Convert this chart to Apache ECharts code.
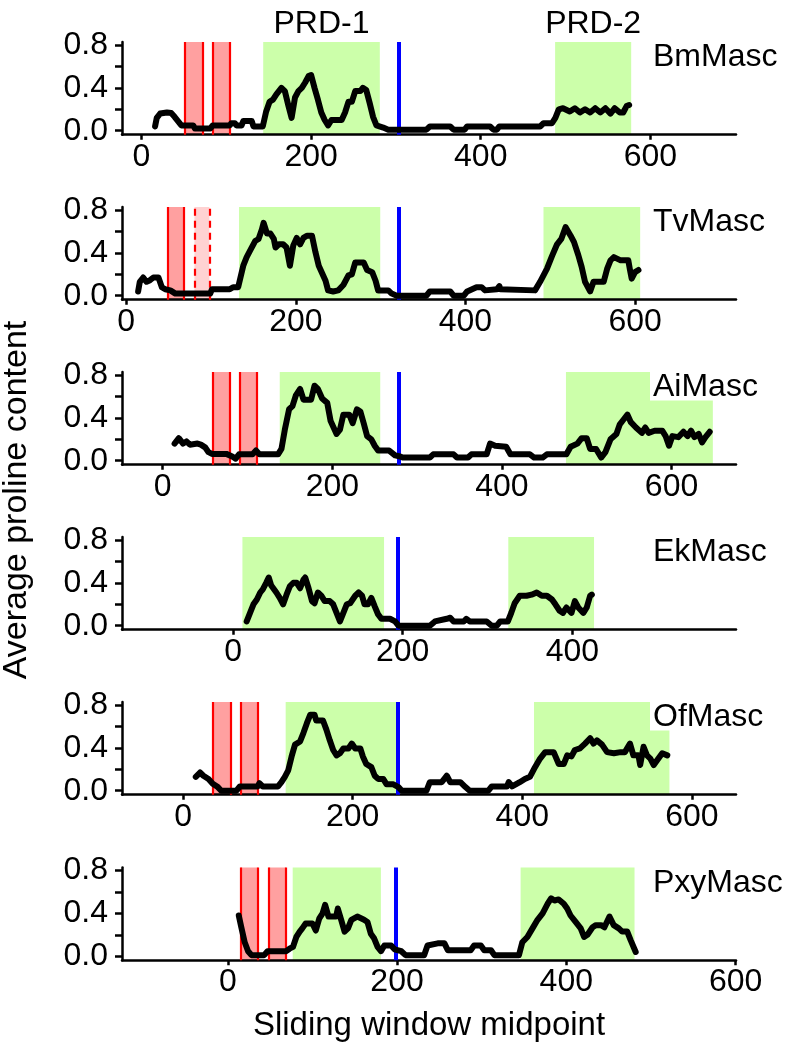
<!DOCTYPE html>
<html>
<head>
<meta charset="utf-8">
<script src="https://cdn.jsdelivr.net/npm/echarts@6/dist/echarts.min.js"></script>
<style>
html,body{margin:0;padding:0;background:#fff;}
#chart{width:788px;height:1042px;}
</style>
</head>
<body>
<div id="chart"></div>
<script>
// ---------- data ----------
const panelNames = ['BmMasc', 'TvMasc', 'AiMasc', 'EkMasc', 'OfMasc', 'PxyMasc'];
const xTickValues = [0, 200, 400, 600];
const yTickValues = [0, 0.2, 0.4, 0.6, 0.8];
const yLabelValues = [0, 0.4, 0.8];
const xLimits = [[-23, 701], [-5, 719], [-48, 676], [-131, 593], [-72, 652], [-125, 600.5]];
const yLimits = [-0.037, 0.828];
const prdNames = ['PRD-1', 'PRD-2'];

// PRD regions (green), NLS regions (red), dashed NLS (light red), blue marker position
const prdRegions = [
  [[143.5, 281], [487.7, 577.4]],
  [[133, 299.5], [492, 606]],
  [[138, 256.5], [475.5, 648.7]],
  [[11, 178], [324.5, 425.6]],
  [[121, 252], [413.8, 573.5]],
  [[76.7, 180.9], [346, 480.6]]
];
const nlsRegions = [
  [[51, 72], [83.7, 104]],
  [[48.5, 68.2]],
  [[59, 79], [90.5, 111.2]],
  [],
  [[35.4, 55.9], [67.7, 88.5]],
  [[15, 35.4], [48, 68.8]]
];
const nlsDashedRegions = [[], [[80.4, 98]], [], [], [], []];
const blueMarks = [302.8, 321, 278, 194.7, 253.7, 198.6];

const bmMasc = [[16,0.04],[18,0.12],[22,0.16],[30,0.17],[35,0.165],[39,0.13],[43,0.09],[47,0.05],[61,0.05],[63,0.02],[81,0.02],[84,0.05],[104,0.05],[106,0.07],[110,0.07],[112,0.05],[118,0.05],[120,0.09],[130,0.09],[132,0.04],[143,0.04],[147,0.18],[151,0.27],[155,0.29],[159,0.34],[165,0.4],[169,0.37],[173,0.24],[177,0.12],[181,0.31],[185,0.37],[189,0.4],[193,0.45],[197,0.51],[200,0.52],[204,0.4],[208,0.29],[212,0.17],[216,0.1],[220,0.05],[224,0.1],[236,0.1],[240,0.17],[244,0.27],[248,0.27],[252,0.37],[258,0.37],[261,0.4],[265,0.38],[269,0.26],[273,0.13],[277,0.05],[285,0.03],[291,0.01],[336,0.01],[340,0.04],[364,0.04],[368,0.01],[381,0.01],[384,0.04],[411,0.04],[415,0.01],[419,0.01],[422,0.04],[470,0.04],[474,0.07],[484,0.07],[488,0.12],[492,0.2],[497,0.21],[505,0.18],[511,0.21],[517,0.17],[523,0.2],[529,0.17],[535,0.21],[541,0.17],[547,0.21],[553,0.16],[558,0.21],[564,0.17],[568,0.17],[572,0.23],[575,0.24]];

const tvMasc = [[14,0.04],[16,0.13],[20,0.17],[24,0.13],[28,0.145],[32,0.17],[38,0.17],[42,0.08],[46,0.06],[52,0.05],[58,0.02],[99,0.02],[101,0.06],[122,0.06],[126,0.08],[132,0.08],[138,0.28],[142,0.36],[146,0.42],[152,0.51],[156,0.53],[160,0.62],[162,0.68],[166,0.58],[170,0.58],[174,0.53],[176,0.45],[180,0.48],[185,0.48],[189,0.45],[193,0.28],[197,0.47],[201,0.54],[205,0.48],[209,0.54],[213,0.56],[219,0.56],[223,0.41],[227,0.28],[231,0.21],[235,0.14],[238,0.05],[244,0.04],[250,0.05],[256,0.1],[262,0.19],[266,0.2],[270,0.31],[280,0.31],[284,0.24],[290,0.22],[294,0.14],[297,0.05],[309,0.05],[313,0.02],[319,0.0],[354,0.0],[358,0.04],[382,0.04],[386,0.0],[398,0.0],[402,0.04],[413,0.08],[419,0.08],[423,0.05],[437,0.06],[440,0.09],[441,0.06],[482,0.05],[488,0.13],[496,0.25],[502,0.37],[508,0.48],[513,0.53],[518,0.64],[524,0.56],[528,0.5],[533,0.38],[537,0.27],[541,0.13],[547,0.04],[551,0.13],[563,0.13],[567,0.25],[571,0.33],[575,0.36],[583,0.33],[592,0.33],[594,0.24],[596,0.16],[600,0.22],[604,0.24]];

const aiMasc = [[14,0.16],[19,0.21],[24,0.16],[28,0.18],[32,0.15],[41,0.16],[45,0.15],[50,0.125],[54,0.08],[58,0.064],[75,0.064],[82,0.04],[86,0.02],[90,0.06],[106,0.06],[110,0.095],[114,0.06],[136,0.06],[140,0.11],[144,0.29],[149,0.48],[153,0.51],[157,0.61],[162,0.67],[166,0.57],[175,0.57],[179,0.7],[183,0.67],[188,0.58],[194,0.54],[198,0.37],[205,0.25],[209,0.29],[213,0.43],[220,0.43],[224,0.35],[229,0.48],[233,0.46],[237,0.35],[241,0.23],[246,0.2],[250,0.14],[254,0.095],[267,0.095],[274,0.05],[280,0.04],[283,0.03],[315,0.03],[319,0.06],[343,0.06],[347,0.03],[360,0.03],[364,0.06],[382,0.06],[386,0.16],[392,0.14],[405,0.13],[410,0.06],[433,0.06],[438,0.03],[448,0.03],[453,0.06],[476,0.06],[481,0.13],[489,0.16],[494,0.21],[500,0.21],[504,0.11],[511,0.11],[517,0.03],[522,0.08],[528,0.2],[535,0.25],[539,0.34],[543,0.38],[548,0.43],[552,0.36],[558,0.31],[565,0.26],[569,0.31],[573,0.26],[580,0.28],[589,0.28],[593,0.23],[597,0.14],[601,0.23],[608,0.22],[614,0.27],[619,0.23],[623,0.28],[627,0.22],[632,0.25],[636,0.17],[640,0.22],[645,0.27]];

const ekMasc = [[16,0.04],[20,0.12],[24,0.2],[28,0.245],[32,0.31],[35,0.34],[39,0.4],[42,0.45],[45,0.375],[51,0.31],[55,0.26],[59,0.2],[63,0.29],[67,0.37],[71,0.4],[75,0.4],[79,0.35],[83,0.43],[85,0.45],[89,0.35],[93,0.23],[96,0.21],[100,0.31],[104,0.28],[108,0.23],[114,0.23],[118,0.2],[122,0.12],[126,0.04],[130,0.12],[134,0.2],[138,0.21],[144,0.28],[148,0.31],[152,0.28],[155,0.2],[159,0.2],[163,0.26],[167,0.18],[171,0.105],[175,0.065],[185,0.065],[191,0.04],[195,0.0],[232,0.0],[238,0.04],[252,0.065],[256,0.075],[260,0.04],[272,0.04],[275,0.065],[279,0.04],[299,0.04],[305,0.0],[311,0.0],[315,0.04],[324,0.04],[328,0.12],[332,0.21],[338,0.28],[346,0.28],[352,0.29],[358,0.31],[364,0.28],[370,0.28],[376,0.245],[380,0.2],[385,0.14],[389,0.12],[393,0.17],[399,0.12],[403,0.23],[407,0.17],[413,0.12],[417,0.17],[421,0.28],[423,0.29]];

const ofMasc = [[15,0.13],[20,0.17],[24,0.14],[30,0.11],[35,0.066],[41,0.034],[45,0.0],[63,0.0],[67,0.04],[88,0.04],[90,0.07],[94,0.04],[112,0.04],[116,0.08],[120,0.13],[124,0.19],[128,0.32],[132,0.43],[138,0.46],[142,0.54],[146,0.63],[150,0.71],[155,0.71],[157,0.655],[165,0.655],[169,0.57],[173,0.47],[177,0.38],[181,0.33],[185,0.35],[189,0.395],[195,0.395],[199,0.44],[203,0.395],[209,0.395],[212,0.32],[216,0.25],[222,0.22],[226,0.14],[230,0.11],[236,0.11],[240,0.06],[248,0.06],[254,0.034],[258,0.0],[287,0.0],[291,0.08],[305,0.08],[309,0.12],[311,0.14],[315,0.08],[327,0.08],[333,0.034],[338,0.0],[360,0.0],[364,0.04],[382,0.04],[384,0.08],[388,0.04],[397,0.08],[403,0.11],[409,0.13],[415,0.22],[421,0.3],[427,0.36],[437,0.36],[443,0.25],[449,0.25],[453,0.33],[458,0.32],[462,0.38],[468,0.395],[474,0.44],[480,0.49],[484,0.44],[488,0.47],[494,0.43],[500,0.36],[508,0.35],[516,0.36],[521,0.36],[527,0.44],[531,0.33],[537,0.33],[539,0.24],[543,0.41],[547,0.33],[551,0.3],[555,0.24],[559,0.285],[565,0.35],[571,0.33]];

const pxyMasc = [[13,0.38],[16,0.27],[20,0.13],[24,0.047],[28,0.01],[43,0.01],[47,0.047],[69,0.047],[73,0.07],[77,0.087],[81,0.18],[85,0.23],[88,0.26],[92,0.305],[100,0.305],[104,0.24],[108,0.35],[112,0.4],[115,0.48],[119,0.37],[128,0.37],[130,0.445],[134,0.34],[138,0.23],[142,0.26],[146,0.34],[153,0.37],[161,0.34],[165,0.32],[169,0.21],[173,0.165],[177,0.087],[181,0.047],[185,0.1],[193,0.1],[197,0.065],[205,0.047],[210,0.01],[232,0.01],[236,0.1],[248,0.12],[256,0.12],[260,0.056],[287,0.056],[291,0.1],[299,0.1],[303,0.056],[311,0.056],[315,0.01],[344,0.01],[348,0.13],[354,0.18],[360,0.26],[366,0.34],[372,0.4],[378,0.49],[382,0.54],[386,0.52],[391,0.53],[397,0.49],[401,0.445],[405,0.38],[411,0.32],[417,0.26],[421,0.18],[425,0.2],[431,0.27],[435,0.29],[441,0.29],[445,0.27],[451,0.37],[456,0.29],[462,0.26],[466,0.23],[472,0.23],[476,0.15],[482,0.04]];

const panelData = [bmMasc, tvMasc, aiMasc, ekMasc, ofMasc, pxyMasc];

// ---------- layout / style ----------
const FONT = '"Liberation Sans", Arial, Helvetica, sans-serif';
const FS = 32;
const gridTops = [42, 207, 372, 537, 702, 867.5];
const gridHeight = 92.7;
const gridLeft = 122;
const gridWidth = 614;
const GREEN = '#ccffaa';
const RED_FILL = '#ffa0a0';
const RED_FILL_LIGHT = '#ffd2d2';
const RED = '#ff0000';
const BLUE = '#0000ff';

const grids = [], xAxes = [], yAxes = [], series = [];

panelNames.forEach((name, i) => {
  grids.push({ left: gridLeft, width: gridWidth, top: gridTops[i], height: gridHeight, containLabel: false });
  xAxes.push({
    gridIndex: i, type: 'value', min: xLimits[i][0], max: xLimits[i][1],
    splitLine: { show: false },
    axisLine: { show: true, onZero: false, lineStyle: { color: '#000', width: 2.5 } },
    axisTick: { show: true, length: 5, customValues: xTickValues, lineStyle: { color: '#000', width: 2.5 } },
    axisLabel: { show: true, customValues: xTickValues, margin: 6, color: '#000', fontSize: FS, fontFamily: FONT }
  });
  yAxes.push({
    gridIndex: i, type: 'value', min: yLimits[0], max: yLimits[1],
    splitLine: { show: false },
    axisLine: { show: true, onZero: false, lineStyle: { color: '#000', width: 2.5 } },
    axisTick: { show: true, length: 7, customValues: yTickValues, lineStyle: { color: '#000', width: 2.5 } },
    axisLabel: { show: true, customValues: yLabelValues, margin: 14, color: '#000', fontSize: FS, fontFamily: FONT,
      formatter: v => Number(v).toFixed(1) }
  });

  const areas = [];
  prdRegions[i].forEach((r, k) => {
    const start = { xAxis: r[0], itemStyle: { color: GREEN, opacity: 1 } };
    if (i === 0) {
      start.name = prdNames[k];
      start.label = { show: true, position: 'top', distance: 2, color: '#000', fontSize: FS, fontFamily: FONT, formatter: '{b}' };
    }
    areas.push([start, { xAxis: r[1] }]);
  });
  nlsRegions[i].forEach(r => areas.push([{ xAxis: r[0], itemStyle: { color: RED_FILL, opacity: 1 } }, { xAxis: r[1] }]));
  nlsDashedRegions[i].forEach(r => areas.push([{ xAxis: r[0], itemStyle: { color: RED_FILL_LIGHT, opacity: 1 } }, { xAxis: r[1] }]));

  const lines = [];
  nlsRegions[i].forEach(r => r.forEach(v => lines.push({ xAxis: v, lineStyle: { color: RED, width: 2.2, type: 'solid' } })));
  nlsDashedRegions[i].forEach(r => r.forEach(v => lines.push({ xAxis: v, lineStyle: { color: RED, width: 2.2, type: [7, 5] } })));
  lines.push({ xAxis: blueMarks[i], lineStyle: { color: BLUE, width: 4, type: 'solid' } });

  series.push({
    type: 'line', xAxisIndex: i, yAxisIndex: i, data: [], silent: true, animation: false, z: 1,
    markArea: { silent: true, animation: false, z: 0, label: { show: false }, data: areas },
    markLine: { silent: true, animation: false, z: 1, symbol: ['none', 'none'], label: { show: false }, data: lines }
  });
  series.push({
    type: 'line', name: name, xAxisIndex: i, yAxisIndex: i, data: panelData[i],
    showSymbol: false, symbol: 'none', silent: true, animation: false, z: 3,
    lineStyle: { color: '#000', width: 6, join: 'round', cap: 'round' }
  });
});

const graphics = [];
panelNames.forEach((name, i) => {
  graphics.push({ type: 'rect', z: 100, shape: { x: 650, y: gridTops[i] - 6, width: 138, height: 34.5 }, style: { fill: '#fff' } });
  graphics.push({ type: 'text', z: 101, x: 653, y: gridTops[i] + 15.5,
    style: { text: name, fontSize: FS, fontFamily: FONT, fill: '#000', align: 'left', verticalAlign: 'middle' } });
});
graphics.push({ type: 'text', z: 101, x: 17, y: 500, rotation: Math.PI / 2,
  style: { text: 'Average proline content', fontSize: 34, fontFamily: FONT, fill: '#000', align: 'center', verticalAlign: 'middle' } });
graphics.push({ type: 'text', z: 101, x: 429, y: 1026,
  style: { text: 'Sliding window midpoint', fontSize: 33, fontFamily: FONT, fill: '#000', align: 'center', verticalAlign: 'middle' } });

const chart = echarts.init(document.getElementById('chart'), null, { renderer: 'canvas' });
chart.setOption({
  backgroundColor: '#fff',
  animation: false,
  grid: grids,
  xAxis: xAxes,
  yAxis: yAxes,
  series: series,
  graphic: graphics
});
</script>
</body>
</html>
